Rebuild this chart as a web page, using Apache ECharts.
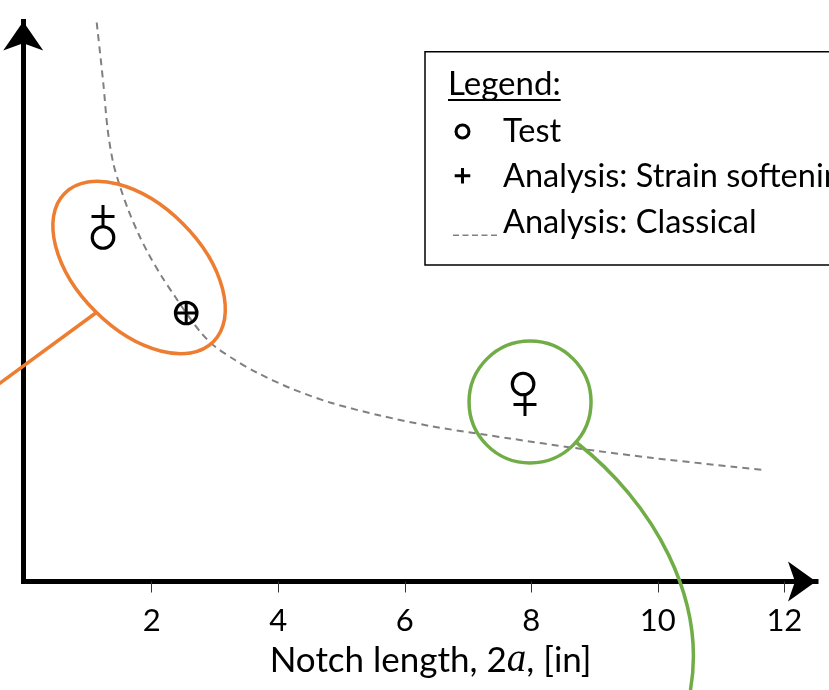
<!DOCTYPE html>
<html>
<head>
<meta charset="utf-8">
<script src="https://cdn.jsdelivr.net/npm/echarts@6/dist/echarts.min.js"></script>
<style>
html,body{margin:0;padding:0;background:#fff;}
#chart{width:829px;height:690px;}
</style>
</head>
<body>
<div id="chart"></div>
<script>
// ---- data ----
const xTicks = [2, 4, 6, 8, 10, 12];
const classicalX = [1.13, 1.235, 1.304, 1.393, 1.499, 1.63, 1.788, 1.946, 2.158, 2.368, 2.545, 2.79, 3.0, 3.317, 3.66, 4.186, 4.818, 5.609, 6.399, 7.19, 7.664, 8.691, 9.924, 11.668];
const classicalY = [111.8, 99.6, 90.3, 83.6, 79.0, 74.3, 69.6, 65.6, 61.0, 57.0, 53.7, 49.6, 47.0, 44.3, 41.8, 38.7, 35.8, 33.2, 31.1, 29.5, 28.6, 26.7, 24.7, 22.3];
const testX = [1.23, 2.545, 7.87];
const testY = [68.8, 53.7, 39.5];
const softX = [1.23, 2.545, 7.90];
const softY = [73.0, 53.7, 35.4];
const seriesNames = ['Test', 'Analysis: Strain softening', 'Analysis: Classical'];

// ---- styles ----
const FONT = 'Lato';
const ORANGE = '#ED7D31';
const GREEN = '#70AD47';
const GRAY = '#808080';

const zip = (xs, ys) => xs.map((x, i) => [x, ys[i]]);

const plusPath = 'path://M10,0h3v10h10v3h-10v10h-3v-10h-10v-3h10z';
// legend icons (45 x 30 box)
const legendRing = 'path://M0,0M45,30M1.5,15a8,8 0 1,0 16,0a8,8 0 1,0 -16,0zM4.6,15a4.9,4.9 0 1,1 9.8,0a4.9,4.9 0 1,1 -9.8,0z';
const legendPlus = 'path://M0,0M45,30M8,6h3v6.2h6.3v3h-6.3v6.3h-3v-6.3h-6.3v-3h6.3z';
let dashStr = 'path://M0,0M45,30';
for (let k = 0; k < 5; k++) { dashStr += 'M' + (k * 9.5) + ',27.1h6v1.3h-6z'; }

const chart = echarts.init(document.getElementById('chart'), null, {renderer: 'canvas'});

const option = {
  backgroundColor: '#fff',
  animation: false,
  grid: {left: 25.2, right: 13, top: 21.5, bottom: 108.5, containLabel: false},
  xAxis: {
    type: 'value', min: 0, max: 12.5,
    name: '{n|Notch length, 2}{a|a}{n|, [in]}',
    nameLocation: 'middle', nameGap: 58,
    nameTextStyle: {
      padding: [0, 0, 0, 20],
      rich: {
        n: {fontFamily: FONT, fontSize: 35, color: '#000', lineHeight: 40},
        a: {fontFamily: 'Liberation Serif', fontStyle: 'italic', fontSize: 39, color: '#000', lineHeight: 40}
      }
    },
    splitLine: {show: false},
    axisLine: {
      show: true, onZero: false,
      symbol: ['none', 'arrow'], symbolSize: [30, 28],
      lineStyle: {color: '#000', width: 5, cap: 'square'}
    },
    axisTick: {show: true, inside: false, length: 11, customValues: xTicks, lineStyle: {color: '#333', width: 1}},
    axisLabel: {show: true, customValues: xTicks, margin: 24, fontFamily: FONT, fontSize: 31, lineHeight: 31, color: '#000'}
  },
  yAxis: {
    type: 'value', min: 0, max: 112, offset: 2,
    splitLine: {show: false},
    axisLine: {
      show: true, onZero: false,
      symbol: ['none', 'arrow'], symbolSize: [30, 29],
      lineStyle: {color: '#000', width: 5, cap: 'square'}
    },
    axisTick: {show: false},
    axisLabel: {show: false}
  },
  legend: {
    show: true, orient: 'vertical', left: 425, top: 51.7,
    padding: [63.3, 60, 26, 28],
    borderColor: '#000', borderWidth: 1.5,
    itemWidth: 45, itemHeight: 30, itemGap: 12.5,
    selectedMode: false,
    textStyle: {fontFamily: FONT, fontSize: 32.5, lineHeight: 30, color: '#000'},
    data: [
      {name: seriesNames[0], icon: legendRing, itemStyle: {color: '#000', borderWidth: 0, opacity: 1}},
      {name: seriesNames[1], icon: legendPlus, itemStyle: {color: '#000', borderWidth: 0, opacity: 1}},
      {name: seriesNames[2], icon: dashStr, itemStyle: {color: GRAY, borderWidth: 0, opacity: 1}}
    ]
  },
  series: [
    {
      name: seriesNames[2], type: 'line', data: zip(classicalX, classicalY),
      smooth: 0.3, symbol: 'none', color: GRAY,
      lineStyle: {color: GRAY, width: 2, type: [7, 5]}, z: 2
    },
    {
      name: seriesNames[0], type: 'scatter', data: zip(testX, testY),
      symbol: 'circle', symbolSize: 21.5, color: '#000',
      itemStyle: {color: 'rgba(255,255,255,0)', borderColor: '#000', borderWidth: 3.2, opacity: 1}, z: 3
    },
    {
      name: seriesNames[1], type: 'scatter', data: zip(softX, softY),
      symbol: plusPath, symbolSize: 23, color: '#000',
      itemStyle: {color: '#000', opacity: 1}, z: 4
    }
  ]
};
chart.setOption(option);

// ---- annotations (anchored to data coordinates) ----
const orangeAnchor = [1.80, 62.8];
const greenAnchor = [7.98, 35.9];
const po = chart.convertToPixel({gridIndex: 0}, orangeAnchor);
const pg = chart.convertToPixel({gridIndex: 0}, greenAnchor);

// measure "Legend:" width
const cv = document.createElement('canvas').getContext('2d');
cv.font = '33px ' + FONT;
const legendTitleW = cv.measureText('Legend:').width;

chart.setOption({
  graphic: [
    {
      type: 'ellipse', z: 5,
      x: po[0], y: po[1], rotation: -Math.PI / 4,
      shape: {cx: 0, cy: 0, rx: 105, ry: 62},
      style: {fill: 'none', stroke: ORANGE, lineWidth: 3.5}
    },
    {
      type: 'line', z: 5,
      shape: {x1: po[0] - 42, y1: po[1] + 44.5, x2: po[0] - 145, y2: po[1] + 120},
      style: {stroke: ORANGE, lineWidth: 3.5}
    },
    {
      type: 'circle', z: 5,
      shape: {cx: pg[0], cy: pg[1], r: 61},
      style: {fill: 'none', stroke: GREEN, lineWidth: 3.5}
    },
    {
      type: 'bezierCurve', z: 5,
      shape: {
        x1: pg[0] + 47, y1: pg[1] + 41,
        cpx1: pg[0] + 120, cpy1: pg[1] + 98,
        cpx2: pg[0] + 182, cpy2: pg[1] + 198,
        x2: pg[0] + 158, y2: pg[1] + 300
      },
      style: {fill: 'none', stroke: GREEN, lineWidth: 3.5}
    },
    {
      type: 'text', z: 6, x: 448, y: 84,
      style: {text: 'Legend:', font: '33px ' + FONT, fill: '#000', textVerticalAlign: 'middle', verticalAlign: 'middle'}
    },
    {
      type: 'line', z: 6,
      shape: {x1: 448, y1: 100, x2: 448 + legendTitleW, y2: 100},
      style: {stroke: '#000', lineWidth: 2}
    }
  ]
});
</script>
</body>
</html>
